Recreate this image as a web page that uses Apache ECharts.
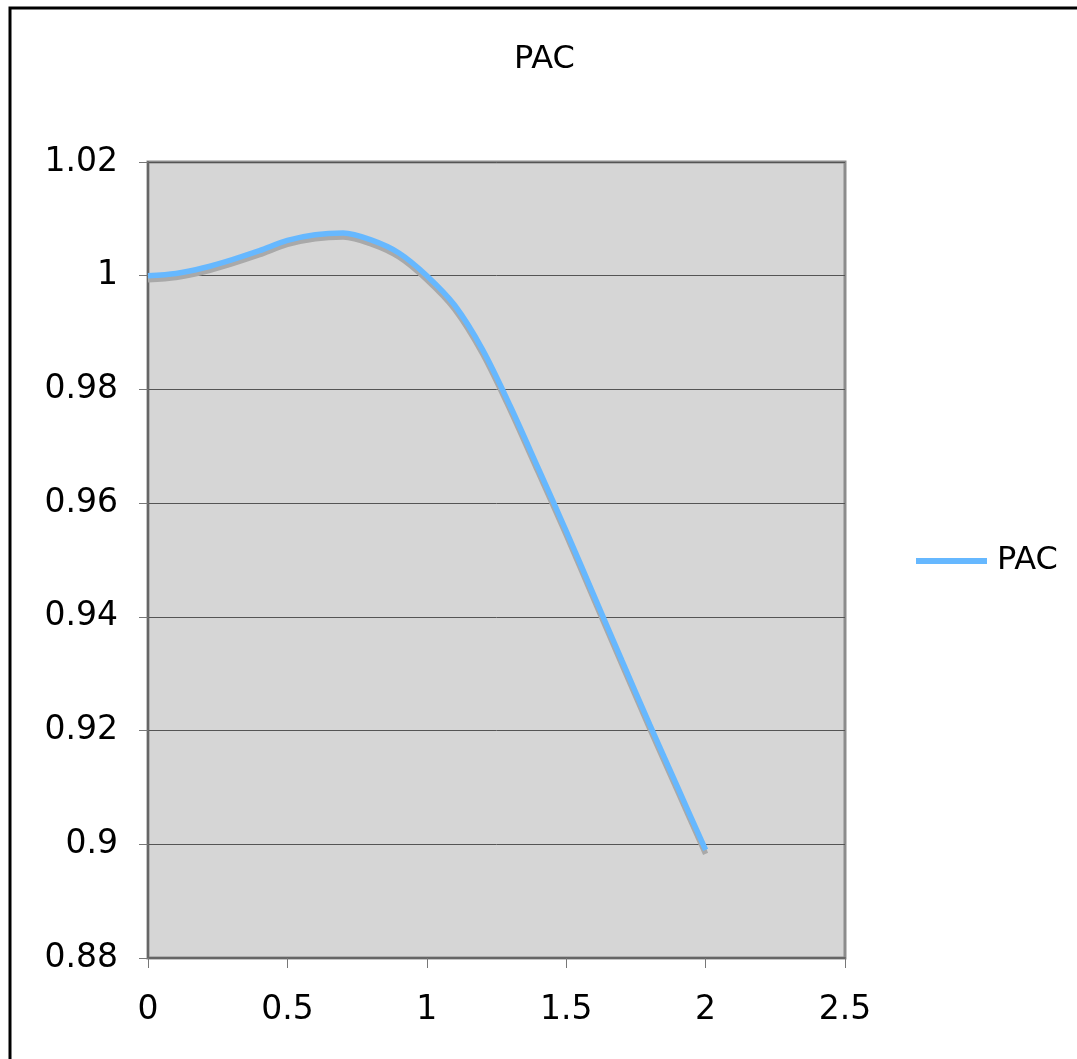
<!DOCTYPE html>
<html>
<head>
<meta charset="utf-8">
<script src="https://cdn.jsdelivr.net/npm/echarts@6/dist/echarts.min.js"></script>
<style>
html,body{margin:0;padding:0;background:#fff;}
#c{width:1077px;height:1059px;}
</style>
</head>
<body>
<div id="c"></div>
<script>
var xValues = [0, 0.1, 0.2, 0.3, 0.4, 0.5, 0.6, 0.7, 0.8, 0.9, 1.0, 1.1, 1.2, 1.3, 1.4, 1.5, 1.6, 1.7, 1.8, 1.9, 2.0];
var pacValues = [1.0000, 1.0004, 1.0014, 1.0028, 1.0044, 1.0062, 1.0072, 1.0075, 1.0063, 1.0040, 1.0000, 0.9948, 0.9870, 0.9770, 0.9661, 0.9551, 0.9437, 0.9323, 0.9210, 0.9100, 0.8990];
var seriesName = 'PAC';
var titleText = 'PAC';

var points = xValues.map(function (x, i) { return [x, pacValues[i]]; });
var FONT = 'DejaVu Sans';

var chart = echarts.init(document.getElementById('c'), null, {renderer: 'canvas'});
chart.setOption({
  backgroundColor: '#ffffff',
  animation: false,
  title: {
    text: titleText,
    left: 514,
    top: 44,
    padding: 0,
    textStyle: {fontFamily: FONT, fontSize: 32, fontWeight: 'normal', color: '#000'}
  },
  legend: {
    show: true,
    left: 916,
    top: 545,
    padding: 0,
    icon: 'rect',
    itemWidth: 71,
    itemHeight: 6,
    data: [{name: seriesName, itemStyle: {color: '#66b8ff'}}],
    textStyle: {fontFamily: FONT, fontSize: 32, color: '#000', padding: [0, 0, 0, 5]}
  },
  graphic: [{
    type: 'rect',
    shape: {x: 10, y: 8, width: 1200, height: 1200},
    style: {fill: 'none', stroke: '#000', lineWidth: 3},
    silent: true,
    z: 100
  }],
  grid: {
    left: 148, right: 232, top: 162, bottom: 101,
    show: true,
    backgroundColor: '#d6d6d6',
    borderColor: '#8c8c8c',
    borderWidth: 3
  },
  xAxis: {
    type: 'value',
    min: 0, max: 2.5, interval: 0.5,
    axisLine: {show: true, onZero: false, lineStyle: {color: '#666', width: 2}},
    axisTick: {show: true, length: 10, lineStyle: {color: '#777', width: 1}},
    splitLine: {show: false},
    axisLabel: {
      margin: 36,
      fontFamily: FONT, fontSize: 33, color: '#000',
      formatter: function (v) { return String(+v.toFixed(2)); }
    }
  },
  yAxis: {
    type: 'value',
    min: 0.88, max: 1.02, interval: 0.02,
    axisLine: {show: true, onZero: false, lineStyle: {color: '#666', width: 2}},
    axisTick: {show: true, length: 9, lineStyle: {color: '#777', width: 1}},
    splitLine: {show: true, lineStyle: {color: '#555', width: 1}},
    axisLabel: {
      margin: 30,
      fontFamily: FONT, fontSize: 33, color: '#000',
      formatter: function (v) { return String(+v.toFixed(2)); }
    }
  },
  series: [{
    name: seriesName,
    type: 'line',
    data: points,
    showSymbol: false,
    smooth: 0.3,
    lineStyle: {
      color: '#66b8ff',
      width: 5.5,
      shadowColor: '#a9a9a9',
      shadowBlur: 0,
      shadowOffsetX: 0,
      shadowOffsetY: 4
    },
    itemStyle: {color: '#66b8ff'}
  }]
});
</script>
</body>
</html>
